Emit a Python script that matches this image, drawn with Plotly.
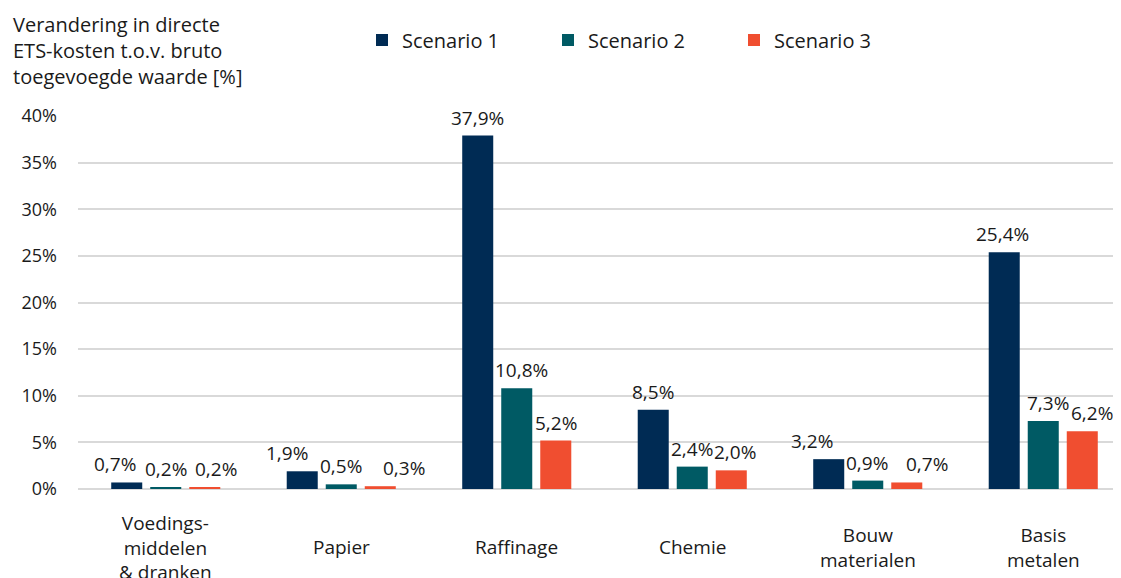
import plotly.graph_objects as go

categories = ["Voedings-<br>middelen<br>&amp; dranken", "Papier", "Raffinage", "Chemie", "Bouw<br>materialen", "Basis<br>metalen"]
cat_keys = ["Voedings", "Papier", "Raffinage", "Chemie", "Bouw", "Basis"]
scenario1 = [0.7, 1.9, 37.9, 8.5, 3.2, 25.4]
scenario2 = [0.2, 0.5, 10.8, 2.4, 0.9, 7.3]
scenario3 = [0.2, 0.3, 5.2, 2.0, 0.7, 6.2]
series_names = ["Scenario 1", "Scenario 2", "Scenario 3"]
colors = ["#002B54", "#005A64", "#F04E30"]
y_ticks = [0, 5, 10, 15, 20, 25, 30, 35, 40]
y_ticklabels = [f"{v}%" for v in y_ticks]

# small horizontal nudges (px) of the value labels, as in the original (overlap avoidance)
label_dx = [
    [-12, -15, 0, 0, -17, -2],
    [0, 0, 5, 0, -1, 5],
    [11, 24, 0, 4, 20, 10],
]

FONT = "'Open Sans', sans-serif"
TXT = "#1a1a1a"

W, H = 1113, 570
ml, mr, mt, mb = 70, 0, 108, 89
ph = H - mt - mb
pw = W - ml - mr
group_px = 175.5
bargap = 0.333

fig = go.Figure()
all_series = [scenario1, scenario2, scenario3]
for name, vals, col in zip(series_names, all_series, colors):
    fig.add_trace(go.Bar(
        x=cat_keys, y=vals, name=name, marker=dict(color=col, line=dict(width=0)),
        cliponaxis=False,
    ))

annotations = []
slot = (1 - bargap) / 3
for i, vals in enumerate(all_series):
    for j, v in enumerate(vals):
        annotations.append(dict(
            x=j + (i - 1) * slot, xref="x", y=v, yref="y", yshift=18, xshift=label_dx[i][j],
            text=f"{v:.1f}%".replace(".", ","), showarrow=False,
            xanchor="center", yanchor="middle",
            font=dict(size=19, color=TXT, family=FONT)))

for key, lab in zip(cat_keys, categories):
    annotations.append(dict(x=key, xref="x", y=0, yref="paper", yshift=-58,
                            text=lab, showarrow=False, xanchor="center", yanchor="middle",
                            font=dict(size=19, color=TXT, family=FONT)))
annotations.append(dict(x=(3 - ml) / pw, xref="paper", y=1 + (mt - 1) / ph, yref="paper",
                        text="Verandering in directe<br>ETS-kosten t.o.v. bruto<br>toegevoegde waarde [%]",
                        showarrow=False, xanchor="left", yanchor="top", align="left",
                        font=dict(size=20, color=TXT, family=FONT)))

fig.update_layout(
    width=W, height=H, margin=dict(l=ml, r=mr, t=mt, b=mb, pad=0),
    paper_bgcolor="white", plot_bgcolor="white",
    separators=",.",
    barmode="group", bargap=bargap, bargroupgap=0.205,
    font=dict(family=FONT, color=TXT, size=18),
    showlegend=True,
    xaxis=dict(showticklabels=False, showgrid=False, zeroline=False, showline=False,
               range=[-0.5, -0.5 + pw / group_px], fixedrange=True),
    yaxis=dict(range=[0, 40], tickvals=y_ticks, ticktext=y_ticklabels,
               showgrid=True, gridcolor="#d9d9d9", gridwidth=1.5, zeroline=True,
               zerolinecolor="#d9d9d9", zerolinewidth=1.5, showline=False,
               ticks="", ticklabelstandoff=20, tickfont=dict(size=18, color=TXT, family=FONT)),
    legend=dict(orientation="h", x=(354 - ml) / pw, xanchor="left", y=1 + (mt - 32) / ph,
                yanchor="middle", entrywidth=141, entrywidthmode="pixels",
                font=dict(size=20, color=TXT, family=FONT), itemclick=False),
    annotations=annotations,
)

fig.write_html("out.html")
